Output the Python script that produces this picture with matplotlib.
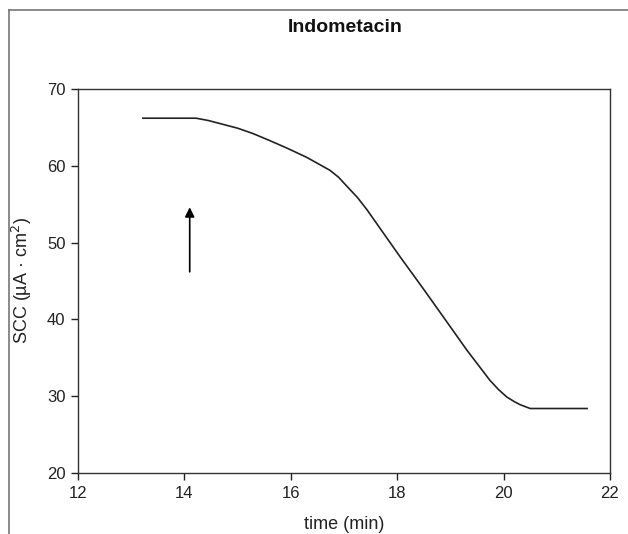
import matplotlib.pyplot as plt
from matplotlib.lines import Line2D

plt.rcParams['font.family'] = ['Liberation Sans', 'DejaVu Sans']

# SCC trace
time_min = [13.22, 14.22, 14.45, 14.67, 15.0, 15.29, 15.6, 15.93, 16.3, 16.74,
            16.9, 17.06, 17.25, 17.43, 18.05, 18.49, 18.87, 19.31, 19.74,
            19.9, 20.06, 20.2, 20.31, 20.50, 21.57]
scc = [66.2, 66.2, 65.9, 65.5, 64.9, 64.2, 63.3, 62.3, 61.1, 59.4,
       58.5, 57.3, 55.9, 54.3, 48.2, 44.0, 40.3, 36.0, 32.1,
       30.9, 29.9, 29.3, 28.9, 28.4, 28.4]

# arrow marking the addition of the drug
arrow_t = 14.1
arrow_from = 46.2
arrow_to = 54.6

xticks = [12, 14, 16, 18, 20, 22]
yticks = [20, 30, 40, 50, 60, 70]

fig = plt.figure(figsize=(6.28, 5.34), dpi=100)
ax = fig.add_axes([0.1242, 0.1142, 0.8471, 0.7191])

ax.plot(time_min, scc, '-', color='#222222', lw=1.2)
ax.annotate('', xy=(arrow_t, arrow_to), xytext=(arrow_t, arrow_from),
            arrowprops=dict(arrowstyle='-|>', color='k', lw=1.2,
                            mutation_scale=14, shrinkA=0, shrinkB=0))

ax.set_xlim(12, 22)
ax.set_ylim(20, 70)
ax.set_xticks(xticks)
ax.set_yticks(yticks)
ax.tick_params(direction='out', length=5, width=1, labelsize=12,
               colors='#222222', pad=4, top=False, right=False)
for s in ax.spines.values():
    s.set_color('#333333')
    s.set_linewidth(1)

ax.set_xlabel('time (min)', fontsize=13, color='#222222')
ax.set_ylabel('SCC (µA · cm$^2$)', fontsize=13, color='#222222')
ax.xaxis.set_label_coords(0.5, -0.112)
ax.yaxis.set_label_coords(-0.083, 0.5)
fig.text(0.549, 1 - 32 / 534, 'Indometacin', ha='center', va='baseline',
         fontsize=14, fontweight='bold', color='#111111')

# outer frame (top and left edges only)
fig.add_artist(Line2D([9 / 628, 1], [1 - 10 / 534, 1 - 10 / 534],
                      transform=fig.transFigure, color='#777777', lw=1.2))
fig.add_artist(Line2D([9 / 628, 9 / 628], [0, 1 - 10 / 534],
                      transform=fig.transFigure, color='#777777', lw=1.2))

fig.savefig('out.png', dpi=100)
